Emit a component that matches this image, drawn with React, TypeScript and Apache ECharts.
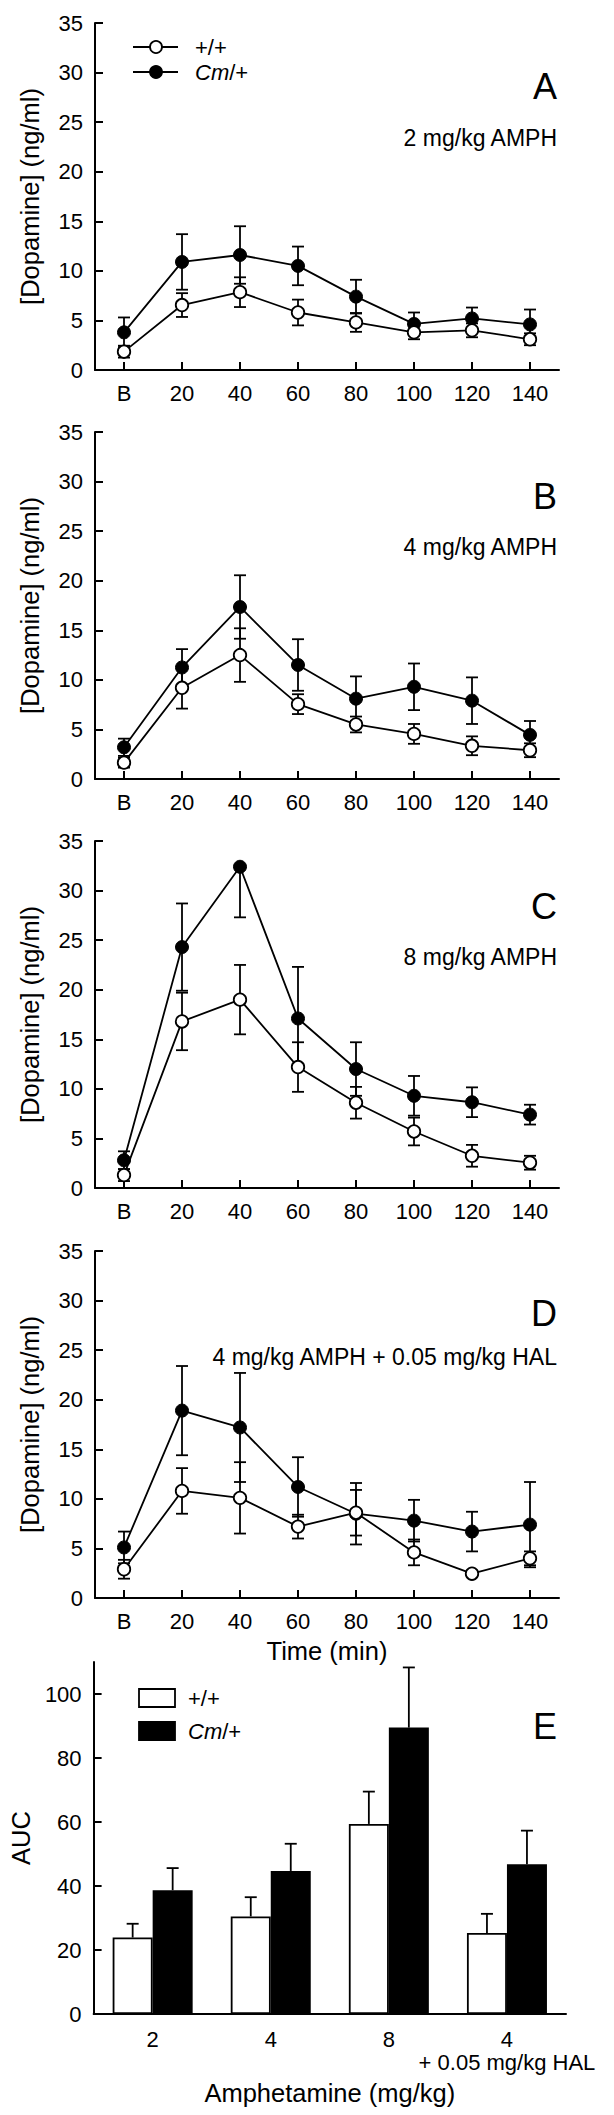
import React, { useEffect, useRef } from "react";
import * as echarts from "echarts";

// ---------- data ----------
const timeLabels = ["B", "20", "40", "60", "80", "100", "120", "140"];

// Panel A: 2 mg/kg AMPH
const wtA = [1.85, 6.55, 7.85, 5.8, 4.8, 3.8, 4.0, 3.1];
const wtAErr = [0.6, 1.2, 1.5, 1.3, 0.95, 0.7, 0.7, 0.6];
const cmA = [3.8, 10.9, 11.6, 10.5, 7.4, 4.65, 5.2, 4.6];
const cmAErr = [1.5, 2.8, 2.9, 1.95, 1.7, 1.15, 1.1, 1.5];

// Panel B: 4 mg/kg AMPH
const wtB = [1.65, 9.2, 12.5, 7.55, 5.5, 4.55, 3.35, 2.9];
const wtBErr = [0.5, 2.1, 2.7, 1.0, 0.8, 1.0, 0.95, 0.7];
const cmB = [3.2, 11.25, 17.35, 11.5, 8.1, 9.3, 7.9, 4.45];
const cmBErr = [0.87, 1.85, 3.2, 2.6, 2.25, 2.35, 2.35, 1.4];

// Panel C: 8 mg/kg AMPH
const wtC = [1.3, 16.8, 19.0, 12.2, 8.6, 5.7, 3.25, 2.55];
const wtCErr = [0.6, 2.9, 3.5, 2.5, 1.6, 1.4, 1.1, 0.7];
const cmC = [2.8, 24.3, 32.4, 17.1, 12.0, 9.3, 8.65, 7.4];
const cmCErr = [0.9, 4.4, 5.1, 5.2, 2.7, 2.0, 1.5, 1.0];

// Panel D: 4 mg/kg AMPH + 0.05 mg/kg HAL
const wtD = [2.9, 10.8, 10.1, 7.2, 8.6, 4.6, 2.45, 4.0];
const wtDErr = [0.95, 2.3, 3.6, 1.2, 2.3, 1.3, 0.3, 0.7];
const cmD = [5.1, 18.9, 17.2, 11.2, 8.5, 7.8, 6.7, 7.4];
const cmDErr = [1.6, 4.5, 5.5, 3.0, 3.1, 2.1, 2.0, 4.3];

const dopamineTicks = [0, 5, 10, 15, 20, 25, 30, 35];

// Panel E: AUC
const doseLabels = ["2", "4", "8", "4\n+ 0.05 mg/kg HAL"];
const aucWT = [23.9, 30.5, 59.4, 25.3];
const aucWTErr = [4.3, 6.0, 10.1, 6.0];
const aucCM = [38.7, 44.7, 89.5, 46.8];
const aucCMErr = [6.9, 8.5, 18.8, 10.5];
const aucTicks = [0, 20, 40, 60, 80, 100];

const panelLetters = ["A", "B", "C", "D"];
const panelSubtitles = [
  "2 mg/kg AMPH",
  "4 mg/kg AMPH",
  "8 mg/kg AMPH",
  "4 mg/kg AMPH + 0.05 mg/kg HAL",
];
const seriesNames = ["+/+", "Cm/+"];

// ---------- layout ----------
const FONT = "'Liberation Sans', Arial, Helvetica, sans-serif";
const TICK_FS = 22;
const TITLE_FS = 25.5;
const SUB_FS = 23;
const panelTops = [23, 432, 841, 1251];
const PANEL_H = 347;
const letterOffsets = [63, 64, 65, 62];
const subOffsets = [115, 115, 116, 106];
const E_TOP = 1662;
const E_H = 352;
const RIGHT_X = 559;

const panelData = [
  { wt: wtA, wtErr: wtAErr, cm: cmA, cmErr: cmAErr },
  { wt: wtB, wtErr: wtBErr, cm: cmB, cmErr: cmBErr },
  { wt: wtC, wtErr: wtCErr, cm: cmC, cmErr: cmCErr },
  { wt: wtD, wtErr: wtDErr, cm: cmD, cmErr: cmDErr },
];

const LW = 1.8;
const black = "#000";

function makeErrRender(max: number) {
  return (params: any, api: any) => {
    const i = api.value(0);
    const m = api.value(1);
    const e = api.value(2);
    const style = { stroke: black, lineWidth: LW, fill: "none" };
    const cw = 6;
    const mid = api.coord([i, m]);
    const lo = api.coord([i, Math.max(0, m - e)]);
    const children: any[] = [
      { type: "line", shape: { x1: mid[0], y1: mid[1], x2: lo[0], y2: lo[1] }, style },
      { type: "line", shape: { x1: lo[0] - cw, y1: lo[1], x2: lo[0] + cw, y2: lo[1] }, style },
    ];
    if (m + e <= max) {
      const hi = api.coord([i, m + e]);
      children.push({ type: "line", shape: { x1: mid[0], y1: mid[1], x2: hi[0], y2: hi[1] }, style });
      children.push({ type: "line", shape: { x1: hi[0] - cw, y1: hi[1], x2: hi[0] + cw, y2: hi[1] }, style });
    }
    return { type: "group", children };
  };
}

function makeBarErrRender(offset: number) {
  return (params: any, api: any) => {
    const i = api.value(0);
    const v = api.value(1);
    const e = api.value(2);
    const style = { stroke: black, lineWidth: LW, fill: "none" };
    const base = api.coord([i, v]);
    const top = api.coord([i, v + e]);
    const x = base[0] + offset;
    return {
      type: "group",
      children: [
        { type: "line", shape: { x1: x, y1: base[1], x2: x, y2: top[1] }, style },
        { type: "line", shape: { x1: x - 6, y1: top[1], x2: x + 6, y2: top[1] }, style },
      ],
    };
  };
}

const axisLineStyle = { color: black, width: 2 };
const nameStyle = { color: black, fontSize: TITLE_FS, fontFamily: FONT, fontWeight: "normal" };
const tickLabel = { color: black, fontSize: TICK_FS, fontFamily: FONT, fontWeight: "normal" };

function buildOption() {
  const grid: any[] = [];
  const xAxis: any[] = [];
  const yAxis: any[] = [];
  const series: any[] = [];
  const graphic: any[] = [];

  panelData.forEach((p, k) => {
    const top = panelTops[k];
    grid.push({ left: 95, width: RIGHT_X - 95, top, height: PANEL_H });
    xAxis.push({
      type: "category",
      gridIndex: k,
      data: timeLabels,
      boundaryGap: true,
      axisLine: { lineStyle: axisLineStyle },
      axisTick: { show: true, inside: true, alignWithLabel: true, length: 8, lineStyle: axisLineStyle },
      axisLabel: { ...tickLabel, margin: 12, interval: 0 },
      splitLine: { show: false },
      name: k === 3 ? "Time (min)" : "",
      nameLocation: "middle",
      nameGap: 40,
      nameTextStyle: nameStyle,
    });
    yAxis.push({
      type: "value",
      gridIndex: k,
      min: dopamineTicks[0],
      max: dopamineTicks[dopamineTicks.length - 1],
      interval: 5,
      axisLine: { show: true, lineStyle: axisLineStyle },
      axisTick: { show: true, inside: true, length: 8, lineStyle: axisLineStyle },
      axisLabel: { ...tickLabel, margin: 12 },
      splitLine: { show: false },
      name: "[Dopamine] (ng/ml)",
      nameLocation: "middle",
      nameGap: 52,
      nameTextStyle: nameStyle,
    });

    series.push({
      type: "custom",
      xAxisIndex: k,
      yAxisIndex: k,
      silent: true,
      z: 1,
      data: p.cm.map((v, i) => [i, v, p.cmErr[i]]),
      encode: { x: 0, y: 1 },
      renderItem: makeErrRender(35),
    });
    series.push({
      type: "custom",
      xAxisIndex: k,
      yAxisIndex: k,
      silent: true,
      z: 1,
      data: p.wt.map((v, i) => [i, v, p.wtErr[i]]),
      encode: { x: 0, y: 1 },
      renderItem: makeErrRender(35),
    });
    series.push({
      type: "line",
      name: seriesNames[1],
      xAxisIndex: k,
      yAxisIndex: k,
      data: p.cm,
      symbol: "circle",
      symbolSize: 13,
      z: 3,
      lineStyle: { color: black, width: LW },
      itemStyle: { color: black, borderColor: black, borderWidth: 1 },
    });
    series.push({
      type: "line",
      name: seriesNames[0],
      xAxisIndex: k,
      yAxisIndex: k,
      data: p.wt,
      symbol: "circle",
      symbolSize: 12.5,
      z: 4,
      lineStyle: { color: black, width: LW },
      itemStyle: { color: "#fff", borderColor: black, borderWidth: LW },
    });

    graphic.push({
      type: "text",
      x: RIGHT_X - 2,
      y: top + letterOffsets[k],
      style: { text: panelLetters[k], fontSize: 36, fontFamily: FONT, fill: black, align: "right", verticalAlign: "middle" },
    });
    graphic.push({
      type: "text",
      x: RIGHT_X - 2,
      y: top + subOffsets[k],
      style: { text: panelSubtitles[k], fontSize: SUB_FS, fontFamily: FONT, fill: black, align: "right", verticalAlign: "middle" },
    });
  });

  // Panel E
  grid.push({ left: 93, width: 473, top: E_TOP, height: E_H });
  xAxis.push({
    type: "category",
    gridIndex: 4,
    data: doseLabels,
    axisLine: { lineStyle: axisLineStyle },
    axisTick: { show: false },
    axisLabel: { ...tickLabel, margin: 14, lineHeight: 23, interval: 0 },
    name: "Amphetamine (mg/kg)",
    nameLocation: "middle",
    nameGap: 66,
    nameTextStyle: nameStyle,
  });
  yAxis.push({
    type: "value",
    gridIndex: 4,
    min: 0,
    max: 110,
    interval: 20,
    axisLine: { show: true, lineStyle: axisLineStyle },
    axisTick: { show: true, inside: true, length: 8, lineStyle: axisLineStyle, customValues: aucTicks },
    axisLabel: {
      ...tickLabel,
      margin: 12,
      customValues: aucTicks,
      formatter: (v: number) => (aucTicks.indexOf(v) >= 0 ? String(v) : ""),
    },
    splitLine: { show: false },
    name: "AUC",
    nameLocation: "middle",
    nameGap: 52,
    nameTextStyle: nameStyle,
  });
  series.push({
    type: "bar",
    name: "AUC " + seriesNames[0],
    xAxisIndex: 4,
    yAxisIndex: 4,
    data: aucWT,
    barWidth: 40,
    barGap: "0%",
    itemStyle: { color: "#fff", borderColor: black, borderWidth: LW },
  });
  series.push({
    type: "bar",
    name: "AUC " + seriesNames[1],
    xAxisIndex: 4,
    yAxisIndex: 4,
    data: aucCM,
    barWidth: 40,
    barGap: "0%",
    itemStyle: { color: black, borderColor: black, borderWidth: LW },
  });
  series.push({
    type: "custom",
    xAxisIndex: 4,
    yAxisIndex: 4,
    silent: true,
    z: 3,
    data: aucWT.map((v, i) => [i, v, aucWTErr[i]]),
    encode: { x: 0, y: 1 },
    renderItem: makeBarErrRender(-20),
  });
  series.push({
    type: "custom",
    xAxisIndex: 4,
    yAxisIndex: 4,
    silent: true,
    z: 3,
    data: aucCM.map((v, i) => [i, v, aucCMErr[i]]),
    encode: { x: 0, y: 1 },
    renderItem: makeBarErrRender(20),
  });
  graphic.push({
    type: "text",
    x: RIGHT_X - 2,
    y: 1726,
    style: { text: "E", fontSize: 36, fontFamily: FONT, fill: black, align: "right", verticalAlign: "middle" },
  });

  // Legend for panel A
  const legY = [47, 72];
  legY.forEach((y, j) => {
    graphic.push({ type: "line", shape: { x1: 133, y1: y, x2: 178, y2: y }, style: { stroke: black, lineWidth: LW } });
    graphic.push({
      type: "circle",
      shape: { cx: 156, cy: y, r: 6 },
      style: { fill: j === 0 ? "#fff" : black, stroke: black, lineWidth: LW },
    });
  });
  graphic.push({
    type: "text",
    x: 195,
    y: legY[0],
    style: { text: seriesNames[0], fontSize: TICK_FS, fontFamily: FONT, fill: black, verticalAlign: "middle" },
  });
  graphic.push({
    type: "text",
    x: 195,
    y: legY[1],
    style: {
      text: "{i|Cm}/+",
      fontSize: TICK_FS,
      fontFamily: FONT,
      fill: black,
      verticalAlign: "middle",
      rich: { i: { fontStyle: "italic", fontSize: TICK_FS, fontFamily: FONT, fill: black } },
    },
  });

  // Legend for panel E
  const legEY = [1689, 1722];
  legEY.forEach((y, j) => {
    graphic.push({
      type: "rect",
      shape: { x: 139, y, width: 36, height: 18 },
      style: { fill: j === 0 ? "#fff" : black, stroke: black, lineWidth: LW },
    });
  });
  graphic.push({
    type: "text",
    x: 188,
    y: legEY[0] + 9,
    style: { text: seriesNames[0], fontSize: TICK_FS, fontFamily: FONT, fill: black, verticalAlign: "middle" },
  });
  graphic.push({
    type: "text",
    x: 188,
    y: legEY[1] + 9,
    style: {
      text: "{i|Cm}/+",
      fontSize: TICK_FS,
      fontFamily: FONT,
      fill: black,
      verticalAlign: "middle",
      rich: { i: { fontStyle: "italic", fontSize: TICK_FS, fontFamily: FONT, fill: black } },
    },
  });

  return {
    animation: false,
    backgroundColor: "#fff",
    textStyle: { fontFamily: FONT, color: black },
    grid,
    xAxis,
    yAxis,
    series,
    graphic,
  };
}

export default function App() {
  const ref = useRef<HTMLDivElement>(null);
  useEffect(() => {
    if (!ref.current) return;
    const chart = echarts.init(ref.current, undefined, { renderer: "svg" });
    chart.setOption(buildOption() as any);
    return () => chart.dispose();
  }, []);
  return (
    <div
      ref={ref}
      style={{ position: "absolute", left: 0, top: 0, width: 614, height: 2115, background: "#fff" }}
    />
  );
}
